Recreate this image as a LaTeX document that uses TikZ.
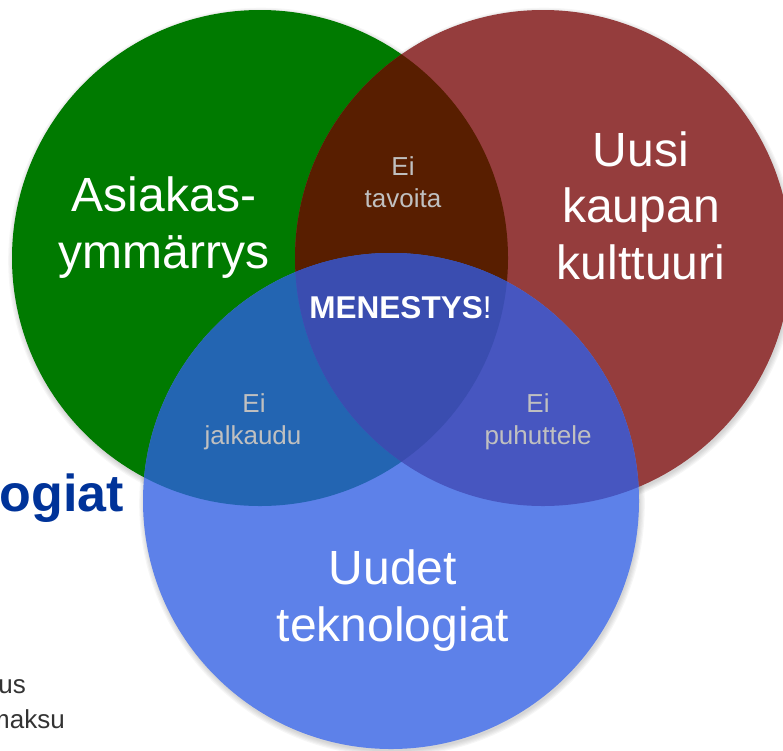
\documentclass[tikz,border=0pt]{standalone}
\usepackage{fontspec}
\setmainfont{Liberation Sans}
\definecolor{cgreen}{RGB}{0,122,0}
\definecolor{cred}{RGB}{149,61,61}
\definecolor{cblue}{RGB}{93,129,233}
\definecolor{cgr}{RGB}{88,30,0}
\definecolor{cgb}{RGB}{35,101,178}
\definecolor{crb}{RGB}{71,86,192}
\definecolor{cgrb}{RGB}{58,77,176}
\definecolor{clbl}{RGB}{192,192,192}
\definecolor{ctitle}{RGB}{0,51,153}
\definecolor{cbody}{RGB}{51,51,51}
\begin{document}
\begin{tikzpicture}[x=1pt,y=-1pt,
  big/.style={text=white, font=\fontsize{48}{57.6}\selectfont, anchor=base, inner sep=0pt},
  small/.style={text=clbl, font=\fontsize{26}{31}\selectfont, anchor=base, inner sep=0pt},
  body/.style={text=cbody, font=\fontsize{26}{31}\selectfont, anchor=base east, inner sep=0pt},
  shadowring/.style={fill=black, opacity=0.035}]
\useasboundingbox (0,0) rectangle (783,750);
\coordinate (G) at (260,258);
\coordinate (R) at (543,258);
\coordinate (B) at (391,501);
% soft shadows
\foreach \c in {G,R,B}{
  \foreach \d in {0,1.2,2.4,3.6,4.8}{
    \fill[shadowring] ([shift={(1,2.5)}]\c) circle[radius=248pt+\d pt];
  }
}
% circles
\fill[cgreen] (G) circle[radius=248pt];
\fill[cred] (R) circle[radius=248pt];
\fill[cblue] (B) circle[radius=248pt];
% pairwise overlaps
\begin{scope}
  \clip (G) circle[radius=248pt];
  \fill[cgr] (R) circle[radius=248pt];
  \fill[cgb] (B) circle[radius=248pt];
\end{scope}
\begin{scope}
  \clip (R) circle[radius=248pt];
  \fill[crb] (B) circle[radius=248pt];
\end{scope}
\begin{scope}
  \clip (G) circle[radius=248pt];
  \clip (R) circle[radius=248pt];
  \fill[cgrb] (B) circle[radius=248pt];
\end{scope}
% labels
\node[big] (a1) at (164,211) {Asiakas-};
\node[big] (a2) at (164,268) {ymmärrys};
\node[big] (u1) at (641,166) {Uusi};
\node[big] (u2) at (641,222) {kaupan};
\node[big] (u3) at (641,279) {kulttuuri};
\node[big] (t1) at (393,584) {Uudet};
\node[big] (t2) at (393,641) {teknologiat};
\node[small] (e1) at (403,175) {Ei};
\node[small] (e2) at (403,207) {tavoita};
\node[small] (j1) at (254,412) {Ei};
\node[small] (j2) at (253,444) {jalkaudu};
\node[small] (p1) at (538,412) {Ei};
\node[small] (p2) at (538,444) {puhuttele};
\node[text=white, font=\fontsize{31.5}{37}\selectfont, anchor=base, inner sep=0pt] (m) at (400.5,318) {\textbf{MENESTYS}!};
\node[text=ctitle, font=\fontsize{52}{62}\selectfont\bfseries, anchor=base east, inner sep=0pt] (og) at (124,511) {ogiat};
\node[body] (us) at (26,693) {us};
\node[body] (mk) at (65,728) {maksu};
\end{tikzpicture}
\end{document}
